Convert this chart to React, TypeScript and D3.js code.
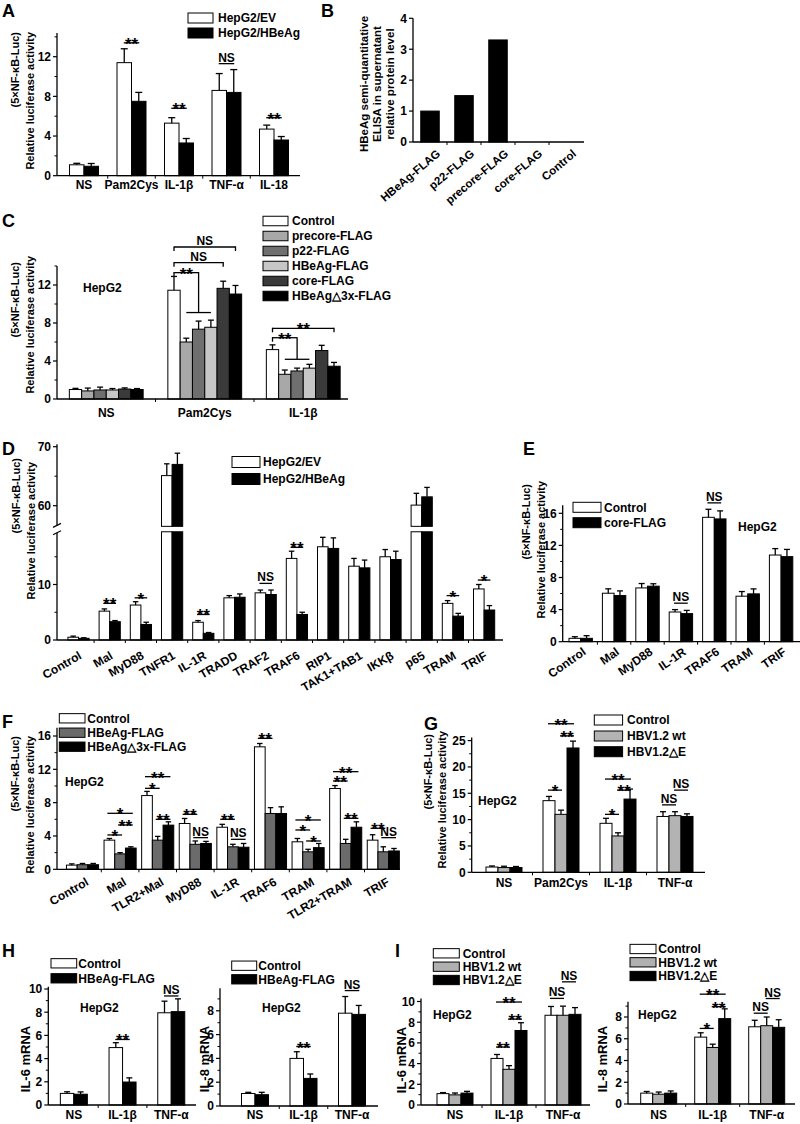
import React, { useEffect, useRef } from "react";
import * as d3 from "d3";

const FONT = "'Liberation Sans', Arial, Helvetica, sans-serif";

// ---------------- Panel A ----------------
const aCategories = ["NS", "Pam2Cys", "IL-1β", "TNF-α", "IL-18"];
const aLegend = ["HepG2/EV", "HepG2/HBeAg"];
const aEV = [1.1, 11.4, 5.3, 8.6, 4.7];
const aEVErr = [0.15, 1.4, 0.55, 1.7, 0.4];
const aHBeAg = [0.95, 7.5, 3.3, 8.4, 3.6];
const aHBeAgErr = [0.28, 0.9, 0.45, 2.3, 0.35];
const aSig = [[1, 0, 1, 13.4, "**"], [2, 0, 1, 6.8, "**"], [3, 0, 1, 11.3, "NS"], [4, 0, 1, 5.85, "**"]];

// ---------------- Panel B ----------------
const bCategories = ["HBeAg-FLAG", "p22-FLAG", "precore-FLAG", "core-FLAG", "Control"];
const bValues = [1.0, 1.5, 3.3, 0, 0];
const bTitle = ["HBeAg semi-quantitative", "ELISA in supernatant", "relative protein level"];

// ---------------- Panel C ----------------
const cCategories = ["NS", "Pam2Cys", "IL-1β"];
const cLegend = ["Control", "precore-FLAG", "p22-FLAG", "HBeAg-FLAG", "core-FLAG", "HBeAg△3x-FLAG"];
const cControl = [1.0, 11.45, 5.2];
const cControlErr = [0.12, 1.45, 0.5];
const cPrecore = [0.85, 6.0, 2.6];
const cPrecoreErr = [0.3, 0.4, 0.45];
const cP22 = [0.95, 7.35, 2.95];
const cP22Err = [0.3, 0.85, 0.3];
const cHBeAg = [0.95, 7.55, 3.25];
const cHBeAgErr = [0.15, 0.75, 0.4];
const cCore = [1.05, 11.65, 5.1];
const cCoreErr = [0.12, 0.75, 0.55];
const cD3x = [1.0, 11.05, 3.45];
const cD3xErr = [0.1, 0.9, 0.4];
const cBrackets = [[1, 0, 5, 16.0, "NS"], [1, 0, 4, 14.35, "NS"], [2, 0, 5, 7.44, "**"]];
const cElbows = [[1, 0, 2, 13.3, 1, 3, 9.1, "**"], [2, 0, 2, 6.45, 1, 3, 4.18, "**"]];

// ---------------- Panel D ----------------
const dCategories = ["Control", "Mal", "MyD88", "TNFR1", "IL-1R", "TRADD", "TRAF2", "TRAF6", "RIP1", "TAK1+TAB1", "IKKβ", "p65", "TRAM", "TRIF"];
const dLegend = ["HepG2/EV", "HepG2/HBeAg"];
const dEV = [0.5, 5.2, 6.3, 65.1, 3.2, 7.6, 8.5, 14.7, 16.8, 13.3, 15.0, 60.1, 6.6, 9.2];
const dEVErr = [0.2, 0.4, 0.6, 2.0, 0.3, 0.4, 0.5, 1.3, 1.7, 1.4, 1.3, 2.0, 0.5, 0.8];
const dHBeAg = [0.3, 3.3, 2.8, 67.0, 1.2, 7.7, 8.2, 4.6, 16.5, 13.0, 14.5, 61.5, 4.3, 5.4];
const dHBeAgErr = [0.1, 0.2, 0.4, 1.9, 0.15, 0.6, 0.8, 0.4, 1.9, 1.4, 1.5, 1.6, 0.5, 0.8];
const dSig = [[1, 0, 1, 6.6, "**"], [2, 0, 1, 7.6, "*"], [4, 0, 1, 4.6, "**"], [6, 0, 1, 10.2, "NS"], [7, 0, 1, 16.7, "**"], [12, 0, 1, 8.0, "*"], [13, 0, 1, 10.8, "*"]];

// ---------------- Panel E ----------------
const eCategories = ["Control", "Mal", "MyD88", "IL-1R", "TRAF6", "TRAM", "TRIF"];
const eLegend = ["Control", "core-FLAG"];
const eControl = [0.42, 6.04, 6.7, 3.7, 15.5, 5.67, 10.8];
const eControlErr = [0.2, 0.55, 0.55, 0.3, 1.0, 0.58, 0.8];
const eCore = [0.42, 5.75, 6.92, 3.5, 15.3, 5.96, 10.6];
const eCoreErr = [0.33, 0.58, 0.3, 0.4, 1.0, 0.62, 0.9];
const eSig = [[3, 0, 1, 4.8, "NS"], [4, 0, 1, 17.3, "NS"]];

// ---------------- Panel F ----------------
const fCategories = ["Control", "Mal", "TLR2+Mal", "MyD88", "IL-1R", "TRAF6", "TRAM", "TLR2+TRAM", "TRIF"];
const fLegend = ["Control", "HBeAg-FLAG", "HBeAg△3x-FLAG"];
const fControl = [0.5, 3.5, 8.85, 5.5, 5.05, 14.7, 3.3, 9.7, 3.5];
const fControlErr = [0.15, 0.2, 0.5, 0.6, 0.35, 0.4, 0.4, 0.35, 0.65];
const fHBeAg = [0.55, 1.85, 3.5, 3.0, 2.7, 6.7, 2.1, 3.1, 2.1];
const fHBeAgErr = [0.15, 0.15, 0.45, 0.4, 0.3, 0.7, 0.3, 0.5, 0.6];
const fD3x = [0.55, 2.55, 5.3, 3.1, 2.65, 6.7, 2.6, 5.05, 2.2];
const fD3xErr = [0.15, 0.15, 0.4, 0.25, 0.45, 0.8, 0.5, 0.65, 0.3];
const fSig = [
  [1, 0, 1, 4.12, "*"], [1, 1, 2, 5.32, "**"], [1, 0, 2, 6.72, "*"],
  [2, 0, 1, 9.72, "*"], [2, 0, 2, 11.12, "**"], [2, 1, 2, 6.0, "**"],
  [3, 0, 1, 6.6, "**"], [3, 1, 2, 3.8, "NS"],
  [4, 0, 1, 6.0, "**"], [4, 1, 2, 3.6, "NS"],
  [5, 0, 1, 15.72, "**"],
  [6, 0, 2, 5.92, "*"], [6, 0, 1, 4.72, "*"], [6, 1, 2, 3.4, "*"],
  [7, 0, 2, 11.72, "**"], [7, 0, 1, 10.6, "**"], [7, 1, 2, 6.12, "**"],
  [8, 0, 1, 4.92, "**"], [8, 1, 2, 3.8, "NS"],
];

// ---------------- Panel G ----------------
const gCategories = ["NS", "Pam2Cys", "IL-1β", "TNF-α"];
const gLegend = ["Control", "HBV1.2 wt", "HBV1.2△E"];
const gControl = [1.0, 13.6, 9.3, 10.6];
const gControlErr = [0.2, 0.8, 0.95, 0.9];
const gWt = [0.9, 11.0, 6.9, 10.75];
const gWtErr = [0.25, 0.8, 0.6, 0.75];
const gDE = [0.9, 23.6, 13.9, 10.6];
const gDEErr = [0.2, 1.3, 1.9, 0.5];
const gSig = [
  [1, 0, 1, 15.6, "*"], [1, 1, 2, 25.9, "**"], [1, 0, 2, 28.2, "**"],
  [2, 0, 1, 11.0, "*"], [2, 1, 2, 15.6, "**"], [2, 0, 2, 17.7, "**"],
  [3, 0, 1, 12.8, "NS"], [3, 1, 2, 15.6, "NS"],
];

// ---------------- Panel H ----------------
const hCategories = ["NS", "IL-1β", "TNF-α"];
const hLegend = ["Control", "HBeAg-FLAG"];
const h6Control = [1.0, 4.95, 7.95];
const h6ControlErr = [0.14, 0.42, 1.0];
const h6HBeAg = [0.93, 1.98, 8.05];
const h6HBeAgErr = [0.2, 0.36, 1.1];
const h6Sig = [[1, 0, 1, 5.65, "**"], [2, 0, 1, 9.4, "NS"]];
const h8Control = [1.05, 4.0, 7.8];
const h8ControlErr = [0.1, 0.56, 1.4];
const h8HBeAg = [0.95, 2.32, 7.7];
const h8HBeAgErr = [0.2, 0.37, 0.75];
const h8Sig = [[1, 0, 1, 5.0, "**"], [2, 0, 1, 9.7, "NS"]];

// ---------------- Panel I ----------------
const iCategories = ["NS", "IL-1β", "TNF-α"];
const iLegend = ["Control", "HBV1.2 wt", "HBV1.2△E"];
const i6Control = [1.1, 4.5, 8.67];
const i6ControlErr = [0.1, 0.38, 0.85];
const i6Wt = [0.98, 3.45, 8.67];
const i6WtErr = [0.18, 0.35, 0.88];
const i6DE = [1.15, 7.2, 8.76];
const i6DEErr = [0.17, 0.75, 0.65];
const i6Sig = [[1, 0, 1, 5.6, "**"], [1, 1, 2, 8.3, "**"], [1, 0, 2, 9.95, "**"], [2, 0, 1, 10.3, "NS"], [2, 1, 2, 11.9, "NS"]];
const i8Control = [1.0, 6.15, 7.1];
const i8ControlErr = [0.15, 0.4, 0.6];
const i8Wt = [0.9, 5.2, 7.2];
const i8WtErr = [0.2, 0.3, 0.8];
const i8DE = [1.0, 7.85, 7.05];
const i8DEErr = [0.2, 0.9, 0.7];
const i8Sig = [[1, 0, 1, 6.95, "*"], [1, 1, 2, 8.95, "**"], [1, 0, 2, 10.1, "**"], [2, 0, 1, 8.35, "NS"], [2, 1, 2, 9.7, "NS"]];

const LUC1 = "(5×NF-κB-Luc)";
const LUC2 = "Relative luciferase activity";

function ser(names: string[], fills: string[], vals: number[][], errs: (number[] | null)[]) {
  return names.map((n, k) => ({ name: n, fill: fills[k], values: vals[k], errs: errs[k] }));
}

function line(g: any, x1: number, y1: number, x2: number, y2: number, w = 1.2) {
  g.append("line").attr("x1", x1).attr("y1", y1).attr("x2", x2).attr("y2", y2)
    .attr("stroke", "#000").attr("stroke-width", w);
}

function sigText(g: any, xm: number, ly: number, t: string) {
  const star = t.indexOf("*") >= 0;
  g.append("text").attr("x", xm).attr("y", star ? ly + 7 : ly - 2)
    .attr("text-anchor", "middle").attr("font-size", star ? 17 : 12).text(t);
}

function drawPanel(root: any, c: any) {
  const g = root.append("g");
  const n = c.cats.length;
  const nS = c.series.length;
  const x = d3.scaleBand<string>().domain(c.cats).range([c.bandStart, c.bandStart + c.band * n]);
  const y = d3.scaleLinear().domain([0, c.refVal]).range([c.y0, c.refPix]);
  const br = c.broken;
  const yU: any = br ? d3.scaleLinear().domain(br.upDomain).range(br.upRange) : null;
  const yv = (v: number) => (br && v > br.lowMax ? yU(v) : y(v));
  const cx = (i: number) => (x(c.cats[i]) as number) + x.bandwidth() / 2;
  const bx = (i: number, j: number) => cx(i) - (nS * c.bw) / 2 + j * c.bw;
  const bc = (i: number, j: number) => bx(i, j) + c.bw / 2;
  const cap = c.cap ?? c.bw * 0.5;

  // bars
  c.series.forEach((s: any, j: number) => {
    const data = s.values.map((v: number, i: number) => ({ v, i, e: s.errs ? s.errs[i] : 0 })).filter((d: any) => d.v > 0);
    const segs: any[] = [];
    data.forEach((d: any) => {
      if (br && d.v > br.lowMax) {
        segs.push({ i: d.i, top: y(br.lowMax), bot: y(0) });
        segs.push({ i: d.i, top: yU(d.v), bot: yU(br.upMin) });
      } else segs.push({ i: d.i, top: y(d.v), bot: y(0) });
    });
    g.selectAll(null).data(segs).enter().append("rect")
      .attr("x", (d: any) => bx(d.i, j)).attr("y", (d: any) => d.top)
      .attr("width", c.bw).attr("height", (d: any) => d.bot - d.top)
      .attr("fill", s.fill).attr("stroke", "#000").attr("stroke-width", 1);
    const errs = data.filter((d: any) => d.e > 0);
    g.selectAll(null).data(errs).enter().append("line")
      .attr("x1", (d: any) => bc(d.i, j)).attr("x2", (d: any) => bc(d.i, j))
      .attr("y1", (d: any) => yv(d.v)).attr("y2", (d: any) => yv(d.v + d.e))
      .attr("stroke", "#000").attr("stroke-width", 1.3);
    g.selectAll(null).data(errs).enter().append("line")
      .attr("x1", (d: any) => bc(d.i, j) - cap / 2).attr("x2", (d: any) => bc(d.i, j) + cap / 2)
      .attr("y1", (d: any) => yv(d.v + d.e)).attr("y2", (d: any) => yv(d.v + d.e))
      .attr("stroke", "#000").attr("stroke-width", 1.3);
  });

  // y axis
  const ax = c.axisX;
  if (br) {
    line(g, ax, y(0), ax, y(br.lowMax) + 1, 1.3);
    line(g, ax, yU(br.upMin) - 1, ax, yU(c.topVal), 1.3);
    line(g, ax - 4, y(br.lowMax) + 3, ax + 4, y(br.lowMax) - 1, 1.2);
    line(g, ax - 4, yU(br.upMin) + 1, ax + 4, yU(br.upMin) - 3, 1.2);
  } else {
    line(g, ax, y(0), ax, y(c.topVal), 1.3);
  }
  c.ticks.forEach((t: number) => {
    line(g, ax - 4, yv(t), ax, yv(t), 1.2);
    g.append("text").attr("x", ax - 6).attr("y", yv(t)).attr("dy", "0.36em")
      .attr("text-anchor", "end").attr("font-size", c.tickFs ?? 12).text(d3.format("~g")(t));
  });
  (c.minor || []).forEach((t: number) => line(g, ax - 2.5, yv(t), ax, yv(t), 1));

  // x axis
  line(g, ax, y(0), c.axisEnd, y(0), 1.3);
  d3.range(1, n).forEach((i) => {
    const xx = c.bandStart + i * c.band;
    line(g, xx, y(0), xx, y(0) + 3, 1);
  });
  c.cats.forEach((cat: string, i: number) => {
    const xl = c.xlab;
    if (xl.rot) {
      g.append("text").attr("transform", `translate(${cx(i) + xl.dx},${y(0) + xl.dy}) rotate(${xl.rot})`)
        .attr("text-anchor", "end").attr("font-size", xl.fs ?? 12).text(cat);
    } else {
      g.append("text").attr("x", cx(i)).attr("y", xl.y).attr("text-anchor", "middle")
        .attr("font-size", xl.fs ?? 12).text(cat);
    }
  });

  // significance lines
  const ext = c.ext ?? 1;
  (c.sigs || []).forEach((s: any) => {
    const [ci, f, t, v, txt] = s;
    const x1 = bc(ci, f) - ext, x2 = bc(ci, t) + ext, ly = yv(v);
    line(g, x1, ly, x2, ly, 1.3);
    sigText(g, (x1 + x2) / 2, ly, txt);
  });
  (c.brackets || []).forEach((s: any) => {
    const [ci, f, t, v, txt] = s;
    const x1 = bc(ci, f), x2 = bc(ci, t), ly = yv(v);
    line(g, x1, ly, x2, ly, 1.3);
    line(g, x1, ly - 0.6, x1, ly + 4, 1.3);
    line(g, x2, ly - 0.6, x2, ly + 4, 1.3);
    sigText(g, (x1 + x2) / 2, ly, txt);
  });
  (c.elbows || []).forEach((s: any) => {
    const [ci, f, m, v, lf, lt, lv, txt] = s;
    const x1 = bc(ci, f), xm = bc(ci, m), ly = yv(v), ly2 = yv(lv);
    line(g, x1, ly, xm, ly, 1.3);
    line(g, x1, ly - 0.6, x1, ly + 4, 1.3);
    line(g, xm, ly - 0.6, xm, ly2, 1.3);
    line(g, bc(ci, lf), ly2, bc(ci, lt), ly2, 1.3);
    sigText(g, (x1 + xm) / 2, ly, txt);
  });

  // legend
  if (c.legend) {
    const L = c.legend;
    c.series.forEach((s: any, j: number) => {
      g.append("rect").attr("x", L.x).attr("y", L.rows[j] - L.h / 2).attr("width", L.w).attr("height", L.h)
        .attr("fill", s.fill).attr("stroke", "#000").attr("stroke-width", 1);
      g.append("text").attr("x", L.tx).attr("y", L.rows[j]).attr("dy", "0.36em")
        .attr("font-size", L.fs ?? 12).text(s.name);
    });
  }
  // axis titles
  (c.titles || []).forEach((t: any) => {
    g.append("text").attr("transform", `translate(${t.x},${t.y}) rotate(-90)`)
      .attr("text-anchor", t.anchor ?? "end").attr("font-size", t.fs ?? 11).text(t.text);
  });
  if (c.note) g.append("text").attr("x", c.note.x).attr("y", c.note.y).attr("font-size", 12).text("HepG2");
  if (c.letter) g.append("text").attr("x", c.letter.x).attr("y", c.letter.y).attr("font-size", 18).text(c.letter.t);
}

function panels() {
  const lucTitles = (x1: number, x2: number, top1: number, top2: number) => [
    { x: x1, y: top1, text: LUC1 },
    { x: x2, y: top2, text: LUC2 },
  ];
  return [
    {
      cats: aCategories,
      series: ser(aLegend, ["#fff", "#000"], [aEV, aHBeAg], [aEVErr, aHBeAgErr]),
      axisX: 57, axisEnd: 300, bandStart: 60.25, band: 47.5, bw: 14.5, cap: 7,
      y0: 175.7, refVal: 12, refPix: 56.7, topVal: 14.4,
      ticks: [0, 4, 8, 12], minor: [2, 6, 10, 14],
      xlab: { y: 189 }, sigs: aSig, ext: 0.5,
      legend: { x: 188, w: 25, h: 10, rows: [18, 33], tx: 218 },
      titles: lucTitles(19, 34, 32, 32), letter: { x: 2, y: 17, t: "A" },
    },
    {
      cats: bCategories,
      series: ser([""], ["#000"], [bValues], [null]),
      axisX: 413, axisEnd: 584, bandStart: 413, band: 34, bw: 18.5,
      y0: 142, refVal: 4, refPix: 18.3, topVal: 4,
      ticks: [0, 1, 2, 3, 4], minor: [],
      xlab: { rot: -40, dx: 11, dy: 13, fs: 11.5 },
      titles: bTitle.map((t, k) => ({ x: 368 + k * 13, y: 84, text: t, anchor: "middle", fs: 11.5 })),
      letter: { x: 321, y: 17, t: "B" },
    },
    {
      cats: cCategories,
      series: ser(cLegend, ["#fff", "#a8a8a8", "#6f6f6f", "#c6c6c6", "#3a3a3a", "#000"],
        [cControl, cPrecore, cP22, cHBeAg, cCore, cD3x],
        [cControlErr, cPrecoreErr, cP22Err, cHBeAgErr, cCoreErr, cD3xErr]),
      axisX: 57, axisEnd: 348, bandStart: 57, band: 98.5, bw: 12.3, cap: 6,
      y0: 399, refVal: 12, refPix: 285, topVal: 14,
      ticks: [0, 4, 8, 12], minor: [2, 6, 10, 14],
      xlab: { y: 417 }, brackets: cBrackets, elbows: cElbows,
      legend: { x: 263, w: 25, h: 9.5, rows: [221, 236, 251, 266, 281, 296], tx: 292 },
      titles: lucTitles(19, 34, 262, 256), note: { x: 83, y: 292 }, letter: { x: 2, y: 227, t: "C" },
    },
    {
      cats: dCategories,
      series: ser(dLegend, ["#fff", "#000"], [dEV, dHBeAg], [dEVErr, dHBeAgErr]),
      axisX: 57, axisEnd: 503, bandStart: 62.9, band: 31.2, bw: 10.6, cap: 5.5,
      y0: 640, refVal: 10, refPix: 584.5, topVal: 70.4,
      broken: { lowMax: 19.5, upMin: 56.5, upDomain: [60, 70], upRange: [505.7, 446.7] },
      ticks: [0, 10, 60, 70], minor: [5, 15, 65],
      xlab: { rot: -30, dx: 4, dy: 18 }, sigs: dSig,
      legend: { x: 232, w: 28, h: 11, rows: [462, 479], tx: 263 },
      titles: lucTitles(20, 35, 458, 462), letter: { x: 2, y: 455, t: "D" },
    },
    {
      cats: eCategories,
      series: ser(eLegend, ["#fff", "#000"], [eControl, eCore], [eControlErr, eCoreErr]),
      axisX: 562.7, axisEnd: 800, bandStart: 564, band: 33.4, bw: 11.7, cap: 6,
      y0: 641.7, refVal: 16, refPix: 513.3, topVal: 17,
      ticks: [0, 4, 8, 12, 16], minor: [2, 6, 10, 14],
      xlab: { rot: -35, dx: 6, dy: 12 }, sigs: eSig,
      legend: { x: 573, w: 28, h: 10, rows: [507.3, 522.7], tx: 604 },
      titles: lucTitles(530, 545, 484, 481), note: { x: 738, y: 531 }, letter: { x: 523, y: 455, t: "E" },
    },
    {
      cats: fCategories,
      series: ser(fLegend, ["#fff", "#6b6b6b", "#000"], [fControl, fHBeAg, fD3x], [fControlErr, fHBeAgErr, fD3xErr]),
      axisX: 57, axisEnd: 400, bandStart: 63.7, band: 37.6, bw: 10.7, cap: 5.5,
      y0: 869.3, refVal: 16, refPix: 736, topVal: 17,
      ticks: [0, 4, 8, 12, 16], minor: [2, 6, 10, 14],
      xlab: { rot: -30, dx: 7, dy: 15 }, sigs: fSig, ext: 2,
      legend: { x: 59.3, w: 25.7, h: 9.3, rows: [718.3, 732.7, 746.7], tx: 87.3 },
      titles: lucTitles(19, 34, 736, 736), note: { x: 65, y: 786 }, letter: { x: 2, y: 728, t: "F" },
    },
    {
      cats: gCategories,
      series: ser(gLegend, ["#fff", "#b3b3b3", "#000"], [gControl, gWt, gDE], [gControlErr, gWtErr, gDEErr]),
      axisX: 471.7, axisEnd: 705, bandStart: 475.5, band: 57, bw: 12, cap: 6,
      y0: 872.3, refVal: 25, refPix: 740.6, topVal: 25.6,
      ticks: [0, 5, 10, 15, 20, 25], minor: [2.5, 7.5, 12.5, 17.5, 22.5],
      xlab: { y: 887 }, sigs: gSig, ext: 1,
      legend: { x: 594.3, w: 28.3, h: 10, rows: [720, 736, 751.7], tx: 627 },
      titles: lucTitles(432, 446, 734, 731), note: { x: 478, y: 805 }, letter: { x: 424, y: 730, t: "G" },
    },
    {
      cats: hCategories,
      series: ser(hLegend, ["#fff", "#000"], [h6Control, h6HBeAg], [h6ControlErr, h6HBeAgErr]),
      axisX: 48.3, axisEnd: 196, bandStart: 49.5, band: 48.7, bw: 13.5, cap: 6,
      y0: 1105, refVal: 10, refPix: 989, topVal: 10.2,
      ticks: [0, 2, 4, 6, 8, 10], minor: [1, 3, 5, 7, 9],
      xlab: { y: 1119 }, sigs: h6Sig, ext: 0.5,
      legend: { x: 51, w: 25.7, h: 9.3, rows: [963.3, 978.3], tx: 78.3 },
      titles: [{ x: 30, y: 1059, text: "IL-6 mRNA", anchor: "middle", fs: 13 }],
      note: { x: 80, y: 1012 }, letter: { x: 2, y: 957, t: "H" },
    },
    {
      cats: hCategories,
      series: ser(hLegend, ["#fff", "#000"], [h8Control, h8HBeAg], [h8ControlErr, h8HBeAgErr]),
      axisX: 220, axisEnd: 378, bandStart: 230.75, band: 48.5, bw: 13.5, cap: 6,
      y0: 1106, refVal: 8, refPix: 1010.8, topVal: 9.9,
      ticks: [0, 2, 4, 6, 8], minor: [1, 3, 5, 7, 9],
      xlab: { y: 1119 }, sigs: h8Sig, ext: 0.5,
      legend: { x: 231.7, w: 25, h: 9.3, rows: [965.7, 979.3], tx: 258.3 },
      titles: [{ x: 209, y: 1059, text: "IL-8 mRNA", anchor: "middle", fs: 13 }],
      note: { x: 262, y: 1012 },
    },
    {
      cats: iCategories,
      series: ser(iLegend, ["#fff", "#b0b0b0", "#000"], [i6Control, i6Wt, i6DE], [i6ControlErr, i6WtErr, i6DEErr]),
      axisX: 421, axisEnd: 590, bandStart: 428, band: 54, bw: 12, cap: 6,
      y0: 1105, refVal: 10, refPix: 1001.5, topVal: 10.3,
      ticks: [0, 2, 4, 6, 8, 10], minor: [1, 3, 5, 7, 9],
      xlab: { y: 1119 }, sigs: i6Sig, ext: 1,
      legend: { x: 433.3, w: 26, h: 9.3, rows: [953.3, 966.7, 980], tx: 462.7 },
      titles: [{ x: 405.5, y: 1060, text: "IL-6 mRNA", anchor: "middle", fs: 13 }],
      note: { x: 433, y: 1019 }, letter: { x: 395, y: 957, t: "I" },
    },
    {
      cats: iCategories,
      series: ser(iLegend, ["#fff", "#b0b0b0", "#000"], [i8Control, i8Wt, i8DE], [i8ControlErr, i8WtErr, i8DEErr]),
      axisX: 628, axisEnd: 795, bandStart: 631.7, band: 54, bw: 12, cap: 6,
      y0: 1104, refVal: 8, refPix: 1017, topVal: 9.4,
      ticks: [0, 2, 4, 6, 8], minor: [1, 3, 5, 7, 9],
      xlab: { y: 1119 }, sigs: i8Sig, ext: 1,
      legend: { x: 630, w: 26, h: 9.3, rows: [949, 962.3, 976], tx: 658.3 },
      titles: [{ x: 606.5, y: 1059, text: "IL-8 mRNA", anchor: "middle", fs: 13 }],
      note: { x: 638, y: 1019 },
    },
  ];
}

export default function App() {
  const ref = useRef<SVGSVGElement>(null);
  useEffect(() => {
    const svg = d3.select(ref.current);
    svg.selectAll("*").remove();
    const root = svg.append("g").attr("font-family", FONT).attr("font-weight", "bold").attr("fill", "#000");
    panels().forEach((p) => drawPanel(root, p));
  }, []);
  return (
    <svg ref={ref} width={800} height={1124}
      style={{ position: "absolute", left: 0, top: 0, background: "#fff" }} />
  );
}
